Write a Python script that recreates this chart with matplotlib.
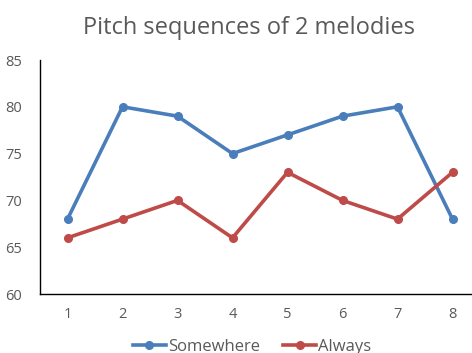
import matplotlib
matplotlib.use("Agg")
import matplotlib.pyplot as plt

positions = [1, 2, 3, 4, 5, 6, 7, 8]
somewhere = [68, 80, 79, 75, 77, 79, 80, 68]
always = [66, 68, 70, 66, 73, 70, 68, 73]

plt.rcParams['font.family'] = ['Open Sans', 'DejaVu Sans']
txt = "#595959"

fig = plt.figure(figsize=(4.72, 3.53), dpi=100)
ax = fig.add_axes([40 / 472, 1 - 294 / 353, 440 / 472, 234 / 353])

ax.plot(positions, somewhere, color="#4A7EBB", lw=2.6, marker="o", ms=5.5, label="Somewhere")
ax.plot(positions, always, color="#BE4B48", lw=2.6, marker="o", ms=5.5, label="Always")

ax.set_xlim(0.5, 8.5)
ax.set_ylim(60, 85)
ax.set_yticks(range(60, 86, 5))
ax.set_xticks(positions)
ax.tick_params(length=0, labelsize=10.5, colors=txt, pad=9)
ax.tick_params(axis="y", pad=13)
for s in ["top", "right"]:
    ax.spines[s].set_visible(False)
for s in ["left", "bottom"]:
    ax.spines[s].set_color("black")
    ax.spines[s].set_linewidth(1.0)

fig.text(249 / 472, 1 - 28 / 353, "Pitch sequences of 2 melodies", ha="center", va="center",
         fontsize=17, color=txt)
fig.legend(loc="center", bbox_to_anchor=(252 / 472, 1 - 347 / 353), ncol=2, frameon=False,
           fontsize=12, labelcolor=txt, handlelength=2, handletextpad=0.1, columnspacing=1.4)

fig.savefig("out.png", dpi=100)
